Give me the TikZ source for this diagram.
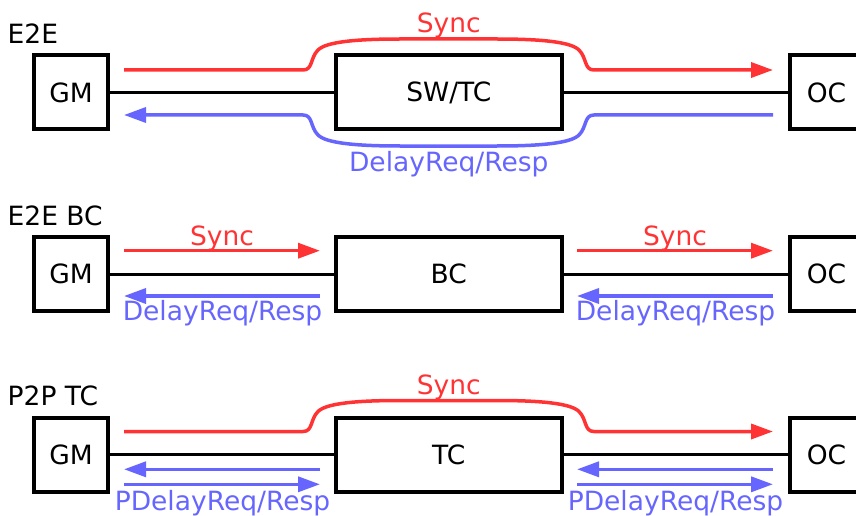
\documentclass[tikz,border=0pt]{standalone}
\usepackage{fontspec}
\setmainfont{DejaVu Sans}
\usetikzlibrary{arrows.meta}
\definecolor{syncred}{RGB}{255,51,51}
\definecolor{delayblue}{RGB}{102,102,255}
\begin{document}
\begin{tikzpicture}[x=1pt,y=-1pt,
  txt/.style={font=\fontsize{26.5}{31}\selectfont},
  box/.style={txt, draw, line width=4pt, minimum height=74pt, inner sep=0pt},
  endbox/.style={box, minimum width=74pt},
  link/.style={line width=3.5pt},
  msg/.style={line width=3.5pt, -{Triangle[length=22pt,width=15pt]}},
  sync/.style={msg, draw=syncred, color=syncred},
  dreq/.style={msg, draw=delayblue, color=delayblue},
  synclbl/.style={txt, text=syncred, inner sep=0pt, anchor=base},
  dreqlbl/.style={txt, text=delayblue, inner sep=0pt, anchor=base},
  rowlbl/.style={txt, inner sep=0pt, anchor=base west}]
\useasboundingbox (0,0) rectangle (856,516);
\clip (0,0) rectangle (856,516);

% ---------- E2E: transparent clock in the middle ----------
\node[rowlbl] (r1) at (7.5,44) {E2E};
\node[endbox] (gm1) at (71,92.5) {GM};
\node[box, minimum width=225.7pt] (sw1) at (448.8,92.5) {SW/TC};
\node[endbox] (oc1) at (826.5,92.5) {OC};
\draw[link] (gm1) -- (sw1);
\draw[link] (sw1) -- (oc1);

\coordinate (s1a) at (124,70);
\coordinate (s1b) at (773,70);
\draw[sync] (s1a) -- (303,70)
  .. controls (313,70) and (310,58) .. (318,50)
  .. controls (326,42) and (355,39) .. (400,39) -- (497,39)
  .. controls (542,39) and (571,42) .. (579,50)
  .. controls (587,58) and (584,70) .. (594,70) -- (s1b);
\node[synclbl] (l1s) at (448.8,33) {Sync};

\coordinate (d1a) at (773,115);
\coordinate (d1b) at (124,115);
\draw[dreq] (d1a) -- (594,115)
  .. controls (584,115) and (587,127) .. (579,135)
  .. controls (571,143) and (542,146) .. (497,146) -- (400,146)
  .. controls (355,146) and (326,143) .. (318,135)
  .. controls (310,127) and (313,115) .. (303,115) -- (d1b);
\node[dreqlbl] (l1d) at (448.8,171) {DelayReq/Resp};

% ---------- E2E BC: boundary clock in the middle ----------
\node[rowlbl] (r2) at (7.5,225) {E2E BC};
\node[endbox] (gm2) at (71,274.3) {GM};
\node[box, minimum width=225.7pt] (bc2) at (448.8,274.3) {BC};
\node[endbox] (oc2) at (826.5,274.3) {OC};
\draw[link] (gm2) -- (bc2);
\draw[link] (bc2) -- (oc2);

\coordinate (s2a) at (124,250.7);
\coordinate (s2b) at (320,250.7);
\coordinate (s2c) at (577,250.7);
\coordinate (s2d) at (773,250.7);
\draw[sync] (s2a) -- (s2b);
\draw[sync] (s2c) -- (s2d);
\node[synclbl] (l2s1) at (222,245) {Sync};
\node[synclbl] (l2s2) at (675,245) {Sync};

\coordinate (d2a) at (320,296);
\coordinate (d2b) at (124,296);
\coordinate (d2c) at (773,296);
\coordinate (d2d) at (577,296);
\draw[dreq] (d2a) -- (d2b);
\draw[dreq] (d2c) -- (d2d);
\node[dreqlbl] (l2d1) at (222.5,320) {DelayReq/Resp};
\node[dreqlbl] (l2d2) at (675.5,320) {DelayReq/Resp};

% ---------- P2P TC: peer-to-peer transparent clock ----------
\node[rowlbl] (r3) at (7.5,405.7) {P2P TC};
\node[endbox] (gm3) at (71,454.5) {GM};
\node[box, minimum width=225.7pt] (tc3) at (448.8,454.5) {TC};
\node[endbox] (oc3) at (826.5,454.5) {OC};
\draw[link] (gm3) -- (tc3);
\draw[link] (tc3) -- (oc3);

\coordinate (s3a) at (124,431.5);
\coordinate (s3b) at (773,431.5);
\draw[sync] (s3a) -- (303,431.5)
  .. controls (313,431.5) and (310,419.5) .. (318,411.5)
  .. controls (326,403.5) and (355,400.5) .. (400,400.5) -- (497,400.5)
  .. controls (542,400.5) and (571,403.5) .. (579,411.5)
  .. controls (587,419.5) and (584,431.5) .. (594,431.5) -- (s3b);
\node[synclbl] (l3s) at (448.8,394) {Sync};

\coordinate (p3a) at (320,469.3);
\coordinate (p3b) at (124,469.3);
\coordinate (p3c) at (124,484.3);
\coordinate (p3d) at (320,484.3);
\coordinate (p3e) at (773,469.3);
\coordinate (p3f) at (577,469.3);
\coordinate (p3g) at (577,484.3);
\coordinate (p3h) at (773,484.3);
\draw[dreq] (p3a) -- (p3b);
\draw[dreq] (p3c) -- (p3d);
\draw[dreq] (p3e) -- (p3f);
\draw[dreq] (p3g) -- (p3h);
\node[dreqlbl] (l3d1) at (222.5,510) {PDelayReq/Resp};
\node[dreqlbl] (l3d2) at (675.5,510) {PDelayReq/Resp};
\end{tikzpicture}
\end{document}
